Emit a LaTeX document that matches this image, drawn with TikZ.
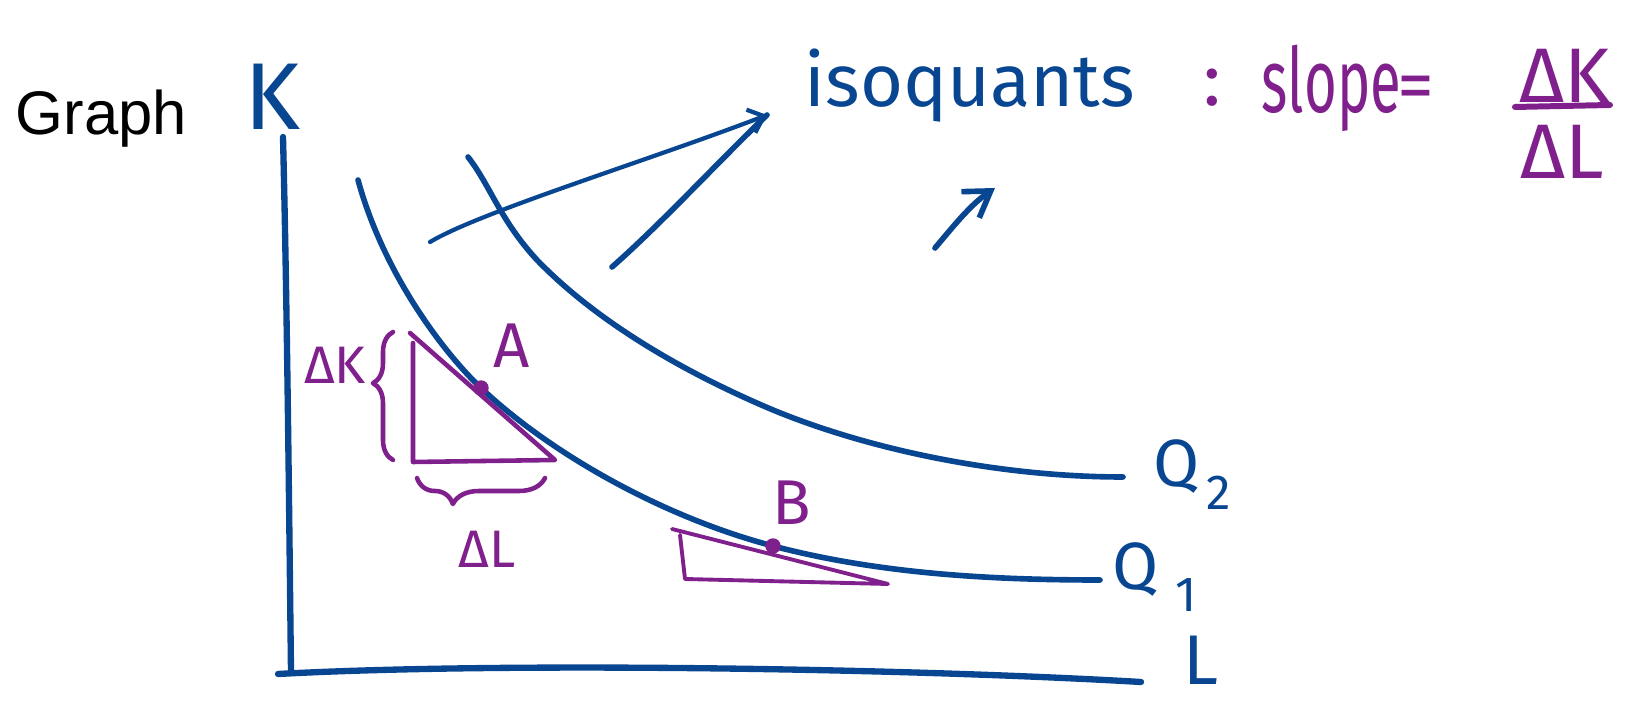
\documentclass[tikz,border=0pt]{standalone}
\usepackage{fontspec}
\setmainfont{Liberation Sans}
\newfontfamily\handfont{Fira Sans}
\definecolor{tintablue}{RGB}{8,70,145}
\definecolor{tintamorada}{RGB}{128,32,140}
\usetikzlibrary{arrows.meta,decorations.pathreplacing}

\begin{document}
\begin{tikzpicture}[x=0.01cm,y=-0.01cm,line cap=round,line join=round,
    trazo/.style={tintablue,line width=1.6pt},
    trazomor/.style={tintamorada,line width=1.3pt},
    letra/.style={inner sep=0pt,text=tintablue},
    flecha/.style={tintablue,line width=1.2pt,-{Straight Barb[length=4pt,width=7pt]}},
    llave/.style={tintamorada,line width=1.3pt,decorate}]
  \useasboundingbox (0,0) rectangle (1627,701);
  \node[anchor=base west,inner sep=0pt,font=\fontsize{17.5}{20}\selectfont]
    (titulo) at (15,135) {Graph};
  % ejes
  \draw[trazo,line width=1.8pt] (283,137) .. controls (287,300) and (289,500) .. (291,672);
  \draw[trazo,line width=1.8pt] (278,674) .. controls (500,662) and (900,668) .. (1141,682);
  \node[letra,font=\handfont\fontsize{27}{30}\selectfont] (ejeK) at (272,97) {K};
  \node[letra,font=\handfont\fontsize{20}{24}\selectfont] (ejeL) at (1201,660) {L};
  % isocuantas
  \coordinate (puntoA) at (481,388);
  \coordinate (puntoB) at (773,546);
  \draw[trazo] (468,157) .. controls (490,185) and (500,220) .. (537,260)
    .. controls (600,325) and (690,375) .. (773,410)
    .. controls (870,450) and (1000,477) .. (1123,477);
  \draw[trazo] (358,180) .. controls (386,282) and (452,361) .. (puntoA)
    .. controls (551,454) and (663,517) .. (puntoB)
    .. controls (883,575) and (1000,580) .. (1100,580);
  \node[letra,font=\handfont\fontsize{19}{22}\selectfont] (q2) at (1177,467) {Q};
  \node[letra,font=\handfont\fontsize{14}{16}\selectfont] (q2sub) at (1219,493) {2};
  \node[letra,font=\handfont\fontsize{19}{22}\selectfont] (q1) at (1136,570) {Q};
  \node[letra,font=\handfont\fontsize{14}{16}\selectfont] (q1sub) at (1186,595) {1};
  % punto A
  \draw[trazomor] (410,333) -- (555,460) -- (413,462) -- (413,343);
  \fill[tintamorada] (puntoA) circle[radius=2.2pt];
  \node[letra,text=tintamorada,font=\handfont\fontsize{18}{20}\selectfont]
    (etqA) at (512,346) {A};
  \draw[llave,decoration={brace,amplitude=0.2cm,aspect=0.6}] (393,460) -- (393,332);
  \node[letra,text=tintamorada,font=\handfont\fontsize{15}{18}\selectfont]
    (dK) at (335,365) {ΔK};
  \draw[llave,decoration={brace,amplitude=0.26cm,aspect=0.72}] (545,478) -- (417,478);
  \node[letra,text=tintamorada,font=\handfont\fontsize{15}{18}\selectfont]
    (dL) at (487,549) {ΔL};
  % punto B
  \draw[trazomor,line width=1.1pt] (672,529) -- (888,584) -- (685,579) -- (680,535);
  \fill[tintamorada] (puntoB) circle[radius=2.2pt];
  \node[letra,text=tintamorada,font=\handfont\fontsize{18}{20}\selectfont]
    (etqB) at (792,503) {B};
  % titulo de la derecha
  \node[letra,anchor=base west,font=\handfont\fontsize{21}{24}\selectfont]
    (iso) at (804,107) {isoquants};
  \node[letra,text=tintamorada,font=\handfont\fontsize{21}{24}\selectfont]
    (dospuntos) at (1212,88) {:};
  \node[letra,anchor=base west,text=tintamorada,font=\handfont\fontsize{16}{20}\selectfont]
    (pend) at (1261,113) {\scalebox{1}[1.6]{slope}};
  \node[letra,text=tintamorada,font=\handfont\fontsize{21}{24}\selectfont]
    (igual) at (1416,93) {=};
  \node[letra,text=tintamorada,font=\handfont\fontsize{22}{26}\selectfont]
    (numK) at (1565,76) {ΔK};
  \node[letra,text=tintamorada,font=\handfont\fontsize{22}{26}\selectfont]
    (denL) at (1562,152) {ΔL};
  \draw[trazomor,line width=1.7pt] (1515,107) -- (1610,105);
  % flechas
  \coordinate (punta) at (767,115);
  \coordinate (desdeQ1) at (430,242);
  \coordinate (desdeQ2) at (612,267);
  \coordinate (sueltaA) at (935,248);
  \coordinate (sueltaB) at (995,188);
  \draw[flecha] (desdeQ1) .. controls (480,212) and (650,160) .. (punta);
  \draw[trazo] (desdeQ2) .. controls (660,225) and (720,160) .. (punta);
  \draw[flecha,line width=1.6pt,-{Straight Barb[length=7pt,width=9pt]}]
    (sueltaA) .. controls (952,228) and (970,205) .. (sueltaB);
\end{tikzpicture}
\end{document}
